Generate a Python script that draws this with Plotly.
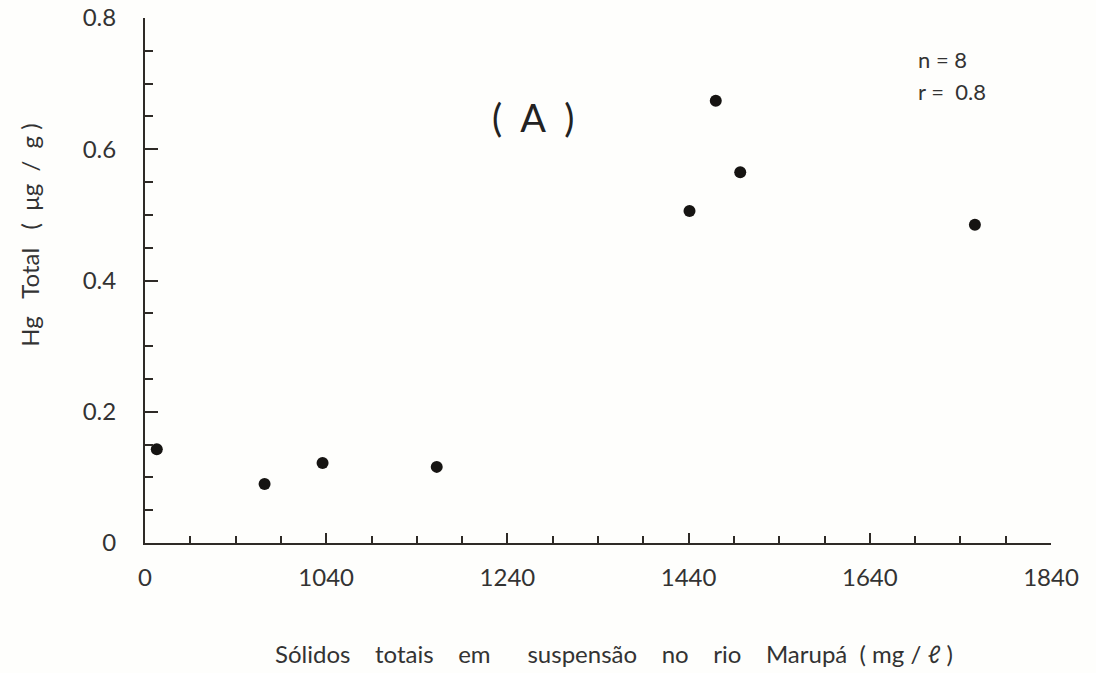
import plotly.graph_objects as go

# Data (x: total suspended solids, mg/L; y: total Hg, µg/g)
solidos = [853, 972, 1036, 1162, 1441, 1470, 1497, 1756]
hg_total = [0.143, 0.090, 0.122, 0.116, 0.506, 0.674, 0.565, 0.485]

x_tickvals = [840, 1040, 1240, 1440, 1640, 1840]
x_ticktext = ["0", "1040", "1240", "1440", "1640", "1840"]
y_tickvals = [0, 0.2, 0.4, 0.6, 0.8]
y_ticktext = ["0", "0.2", "0.4", "0.6", "0.8"]

ink = "#2e2a26"
font_family = "Lato, 'DejaVu Sans', sans-serif"

fig = go.Figure()
fig.add_trace(go.Scatter(
    x=solidos, y=hg_total, mode="markers",
    marker=dict(size=12, color="#161412", line=dict(width=0)),
    showlegend=False, cliponaxis=False,
))

nb = "\u00a0"
xtitle = ("Sólidos" + nb*4 + "totais" + nb*4 + "em" + nb*6 + "suspensão" + nb*4 +
          "no" + nb*4 + "rio" + nb*4 + "Marupá" + nb*2 + "(" + nb + "mg" + nb + "/" + nb + "ℓ" + nb + ")")
ytitle = "Hg" + nb*3 + "Total" + nb*3 + "(" + nb*2 + "μg" + nb*2 + "/" + nb*2 + "g" + nb + ")"

fig.update_layout(
    width=1096, height=673,
    margin=dict(l=145, r=45, t=18, b=130),
    paper_bgcolor="#fefefc", plot_bgcolor="#fefefc",
    font=dict(family=font_family, color=ink, size=20),
    xaxis=dict(
        range=[840, 1840], showgrid=False, zeroline=False, automargin=False,
        showline=True, linecolor=ink, linewidth=2,
        tickmode="array", tickvals=x_tickvals, ticktext=x_ticktext,
        ticks="inside", ticklen=10, tickwidth=2, tickcolor=ink,
        minor=dict(dtick=50, tick0=840, ticks="inside", ticklen=7, tickwidth=2, tickcolor=ink),
        tickfont=dict(size=24, color="#333"), ticklabelstandoff=12,
    ),
    yaxis=dict(
        range=[0, 0.8], showgrid=False, zeroline=False, automargin=False,
        showline=True, linecolor=ink, linewidth=2,
        tickmode="array", tickvals=y_tickvals, ticktext=y_ticktext,
        ticks="inside", ticklen=13, tickwidth=2, tickcolor=ink,
        minor=dict(dtick=0.05, tick0=0, ticks="inside", ticklen=8, tickwidth=2, tickcolor=ink),
        tickfont=dict(size=24, color="#333"), ticklabelstandoff=22,
    ),
    annotations=[
        dict(text=xtitle, xref="paper", yref="paper", x=(614 - 145) / 906, y=(543 - 653) / 525,
             xanchor="center", yanchor="middle", showarrow=False,
             font=dict(size=24, color="#333")),
        dict(text=ytitle, xref="paper", yref="paper", x=-0.127, y=0.587,
             xanchor="center", yanchor="middle", textangle=-90, showarrow=False,
             font=dict(size=24, color="#333")),
        dict(text="(" + nb*2 + "A" + nb*2 + ")", xref="paper", yref="paper",
             x=(533 - 145) / 906, y=(543 - 117) / 525,
             xanchor="center", yanchor="middle", showarrow=False,
             font=dict(size=38, color="#222")),
        dict(text="n" + nb + "=" + nb + "8", xref="paper", yref="paper",
             x=(916 - 145) / 906, y=(543 - 60) / 525,
             xanchor="left", yanchor="middle", showarrow=False,
             font=dict(size=22, color="#333")),
        dict(text="r" + nb + "=" + nb + nb + "0.8", xref="paper", yref="paper",
             x=(916 - 145) / 906, y=(543 - 91) / 525,
             xanchor="left", yanchor="middle", showarrow=False,
             font=dict(size=22, color="#333")),
    ],
)

fig.write_html("out.html")
